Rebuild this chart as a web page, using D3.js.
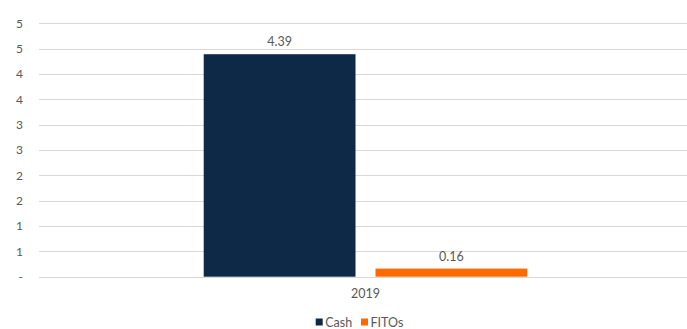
<!DOCTYPE html>
<html><head><meta charset="utf-8">
<script src="https://cdn.jsdelivr.net/npm/d3@7"></script>
<style>body{margin:0;background:#fff}svg{display:block}text{font-family:Lato,"Open Sans",sans-serif;fill:#595959}</style>
</head><body>
<svg id="c" width="687" height="329"></svg>
<script>
const categories = ["2019"];
const seriesNames = ["Cash", "FITOs"];
const cashValues = [4.39];
const fitosValues = [0.16];
const yTicks = [0, 0.5, 1, 1.5, 2, 2.5, 3, 3.5, 4, 4.5, 5];
const yTickLabels = ["-", "1", "1", "2", "2", "3", "3", "4", "4", "5", "5"];
const colors = ["#0E2847", "#FF6A00"];

const svg = d3.select("#c");
const plotLeft = 39, plotRight = 692, plotTop = 23.3, plotBottom = 276.7;
const y = d3.scaleLinear().domain([0, 5]).range([plotBottom, plotTop]);
const x0 = d3.scaleBand().domain(categories).range([plotLeft, plotRight]).paddingInner(0).paddingOuter(0.509);
const x1 = d3.scaleBand().domain(seriesNames).range([0, x0.bandwidth()]).paddingInner(0.1163).paddingOuter(0);
const series = [cashValues, fitosValues];

// gridlines
svg.append("g").selectAll("line").data(yTicks).join("line")
  .attr("x1", plotLeft).attr("x2", 687)
  .attr("y1", d => Math.round(y(d)) + 0.5).attr("y2", d => Math.round(y(d)) + 0.5)
  .attr("stroke", "#d9d9d9").attr("stroke-width", 1);

// y labels
const yAxis = d3.axisLeft(y).tickValues(yTicks).tickSize(0).tickPadding(0)
  .tickFormat((d, i) => yTickLabels[i]);
const ga = svg.append("g").attr("transform", "translate(23,0)").call(yAxis);
ga.select(".domain").remove();
ga.selectAll("text").attr("font-size", 12).style("fill", "#595959")
  .style("font-family", "Lato, 'Open Sans', sans-serif");

// bars
categories.forEach((c, ci) => {
  seriesNames.forEach((s, si) => {
    const v = series[si][ci];
    const bx = x0(c) + x1(s);
    svg.append("rect").attr("x", bx).attr("width", x1.bandwidth())
      .attr("y", y(v)).attr("height", y(0) - y(v)).attr("fill", colors[si]);
    svg.append("text").attr("x", bx + x1.bandwidth() / 2).attr("y", y(v) - 8)
      .attr("text-anchor", "middle").attr("font-size", 12.5).text(v.toFixed(2));
  });
  svg.append("text").attr("x", x0(c) + x0.bandwidth() / 2).attr("y", 298)
    .attr("text-anchor", "middle").attr("font-size", 12.5).text(c);
});

// legend
const legendX = [315.7, 361];
seriesNames.forEach((s, i) => {
  svg.append("rect").attr("x", legendX[i]).attr("y", 318.5).attr("width", 7).attr("height", 7).attr("fill", colors[i]);
  svg.append("text").attr("x", legendX[i] + 9.5).attr("y", 326.5).attr("font-size", 12.5).text(s);
});
</script>
</body></html>
